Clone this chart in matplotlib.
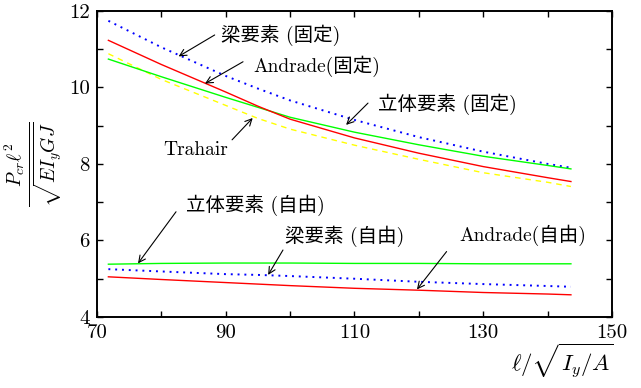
import matplotlib
matplotlib.use("Agg")
import matplotlib.pyplot as plt
import numpy as np

plt.rcParams['font.family'] = ['cmr10', 'Noto Sans CJK JP', 'DejaVu Sans']
plt.rcParams['mathtext.fontset'] = 'cm'
plt.rcParams['axes.formatter.use_mathtext'] = True

# slenderness values
x = [71.8, 80, 90, 95, 100, 110, 120, 130, 140, 143.6]

# clamped (固定)
beam_fixed = [11.74, 11.05, 10.30, 9.97, 9.66, 9.15, 8.70, 8.32, 8.00, 7.90]
andrade_fixed = [11.23, 10.60, 9.88, 9.51, 9.17, 8.68, 8.28, 7.93, 7.64, 7.54]
solid_fixed = [10.74, 10.28, 9.74, 9.48, 9.22, 8.83, 8.50, 8.20, 7.96, 7.87]
trahair = [10.88, 10.21, 9.53, 9.19, 8.91, 8.49, 8.12, 7.77, 7.52, 7.41]

# free (自由)
solid_free = [5.38, 5.40, 5.41, 5.41, 5.41, 5.40, 5.40, 5.39, 5.39, 5.39]
beam_free = [5.25, 5.19, 5.12, 5.10, 5.07, 5.00, 4.92, 4.86, 4.81, 4.79]
andrade_free = [5.05, 4.98, 4.90, 4.86, 4.82, 4.75, 4.70, 4.64, 4.60, 4.58]

fig = plt.figure(figsize=(6.41, 3.88), dpi=100)
ax = fig.add_axes([0.151, 0.183, 0.804, 0.789])

dot = (0, (1, 2.5))
dash = (0, (4, 3.5))
ax.plot(x, beam_fixed, color='#0000ff', lw=1.4, ls=dot)
ax.plot(x, trahair, color='#ffff00', lw=1.0, ls=dash)
ax.plot(x, solid_fixed, color='#00ff00', lw=1.0)
ax.plot(x, andrade_fixed, color='#ff0000', lw=1.0)
ax.plot(x, solid_free, color='#00ff00', lw=1.0)
ax.plot(x, beam_free, color='#0000ff', lw=1.4, ls=dot)
ax.plot(x, andrade_free, color='#ff0000', lw=1.0)

ax.set_xlim(70, 150)
ax.set_ylim(4, 12)
ax.set_xticks(np.arange(70, 151, 10))
ax.set_xticklabels(['70', '', '90', '', '110', '', '130', '', '150'])
ax.set_yticks(np.arange(4, 12.1, 1))
ax.set_yticklabels(['4', '', '6', '', '8', '', '10', '', '12'])
ax.tick_params(direction='in', length=4, width=1.0, top=True, right=True,
               labelsize=15, pad=5)
for s in ax.spines.values():
    s.set_linewidth(1.4)

ax.set_ylabel(r'$\frac{P_{cr}\ell^2}{\sqrt{EI_yGJ}}$', fontsize=20, labelpad=3)
fig.text(0.958, 0.02, r'$\ell/\sqrt{I_y/A}$', fontsize=16.5, ha='right', va='bottom')

# labels: (text, text pos, arrow tail, arrow tip)
notes = [
    ('梁要素 (固定)', (98.6, 11.35), (88.3, 11.37), (82.7, 10.81)),
    ('Andrade(固定)', (104.2, 10.54), (92.7, 10.67), (86.8, 10.10)),
    ('立体要素 (固定)', (124.4, 9.57), (112.1, 9.59), (108.7, 9.02)),
    ('Trahair', (85.3, 8.37), (91.0, 8.63), (94.2, 9.20)),
    ('立体要素 (自由)', (94.6, 6.93), (82.3, 6.75), (76.4, 5.40)),
    ('梁要素 (自由)', (108.4, 6.12), (98.9, 5.75), (96.6, 5.10)),
    ('Andrade(自由)', (136.2, 6.14), (124.3, 5.71), (119.7, 4.72)),
]
for txt, tpos, tail, tip in notes:
    ax.text(tpos[0], tpos[1], txt, fontsize=14, ha='center', va='center')
    ax.annotate('', xy=tip, xytext=tail,
                arrowprops=dict(arrowstyle='->', lw=0.8, color='black',
                                shrinkA=0, shrinkB=0, mutation_scale=12))

fig.savefig('out.png', dpi=100)
